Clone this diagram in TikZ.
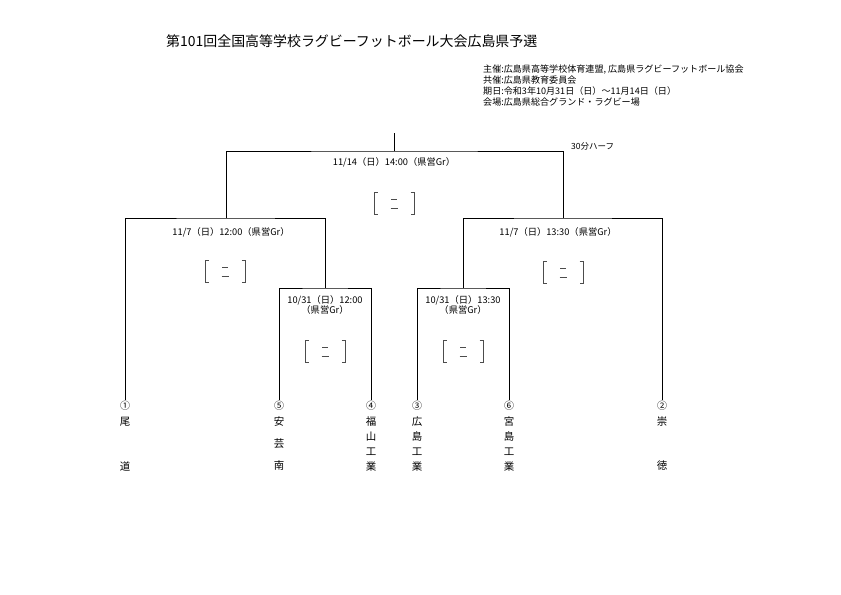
\documentclass[tikz,border=0pt]{standalone}
\usepackage{fontspec}
\setmainfont{Noto Sans CJK JP}
\usetikzlibrary{positioning,calc}
\tikzset{
    score/.pic={
        \draw[scoremark] (-16.5,-11) -- (-20,-11) -- (-20,11) -- (-16.5,11);
        \draw[scoremark] (16.5,-11) -- (20,-11) -- (20,11) -- (16.5,11);
        \draw[scoremark] (-3,-4) -- (3,-4);
        \draw[scoremark] (-3.5,5) -- (3.5,5);
    }
}

\begin{document}
\begin{tikzpicture}[x=1bp,y=-1bp,
        tourney/.style={line width=0.9bp},
        scoremark/.style={line width=0.8bp,black!70},
        matchlabel/.style={font=\fontsize{9.3}{10.5}\selectfont,inner sep=0pt,align=center},
        seed/.style={font=\fontsize{10}{10}\selectfont,inner sep=1bp},
        teamchar/.style={font=\fontsize{10.5}{10.5}\selectfont,inner sep=0pt},
        titletext/.style={font=\fontsize{14}{16}\selectfont,inner sep=0pt},
        infotext/.style={font=\fontsize{9.1}{10.8}\selectfont,inner sep=0pt,align=left},
        note/.style={font=\fontsize{8.5}{10}\selectfont,inner sep=0pt}]
        \useasboundingbox (0,0) rectangle (841,595);
        % heading
        \node[titletext,anchor=west] (title) at (166,41) {第101回全国高等学校ラグビーフットボール大会広島県予選};
        \node[infotext,anchor=north west] (info) at (483,65) {主催:広島県高等学校体育連盟, 広島県ラグビーフットボール協会\\共催:広島県教育委員会\\期日:令和3年10月31日（日）～11月14日（日）\\会場:広島県総合グランド・ラグビー場};
        % teams
        \foreach \s/\x/\num in {s1/125/①, s5/279/⑤, s4/371/④, s3/417/③, s6/509/⑥, s2/662/②}
        \node[seed] (\s) at (\x,406) {\num};
        \foreach \s/\name/\gap in {s1/{尾,道}/44, s5/{安,芸,南}/22, s4/{福,山,工,業}/15, s3/{広,島,工,業}/15, s6/{宮,島,工,業}/15, s2/{崇,徳}/44}
        \foreach \c [count=\i from 0] in \name
        \node[teamchar] (\s-\i) at ($(\s)+(0,{16+\i*\gap})$) {\c};
        % bracket
        \coordinate (top) at (394,133);
        \coordinate (f) at (394,151);
        \coordinate (sf1) at (226,218);
        \coordinate (sf2) at (563,218);
        \coordinate (q1) at (325,288);
        \coordinate (q2) at (463,288);
        \draw[tourney] (s1.north) |- (sf1) -| (q1);
        \draw[tourney] (s5.north) |- (q1) -| (s4.north);
        \draw[tourney] (s3.north) |- (q2) -| (s6.north);
        \draw[tourney] (q2) |- (sf2) -| (s2.north);
        \draw[tourney] (sf1) |- (f) -| (sf2);
        \draw[tourney] (f) -- (top);
        % match dates
        \node[matchlabel,below=6bp of f] (final) {11/14（日）14:00（県営Gr）};
        \node[matchlabel,below=9bp of sf1,xshift=5bp] (semi1) {11/7（日）12:00（県営Gr）};
        \node[matchlabel,below=9bp of sf2,xshift=-5bp] (semi2) {11/7（日）13:30（県営Gr）};
        \node[matchlabel,below=7bp of q1] (quarter1) {10/31（日）12:00\\（県営Gr）};
        \node[matchlabel,below=7bp of q2] (quarter2) {10/31（日）13:30\\（県営Gr）};
        \node[note,anchor=west] (half) at (571,146) {30分ハーフ};
        % scores
        \pic (finalscore) at ($(f)+(0,52)$) {score};
        \pic (semiscore1) at ($(sf1)+(-1,53)$) {score};
        \pic (semiscore2) at ($(sf2)+(0,54)$) {score};
        \pic (qscore1) at ($(q1)+(0,63)$) {score};
        \pic (qscore2) at ($(q2)+(0,63)$) {score};
\end{tikzpicture}
\end{document}
